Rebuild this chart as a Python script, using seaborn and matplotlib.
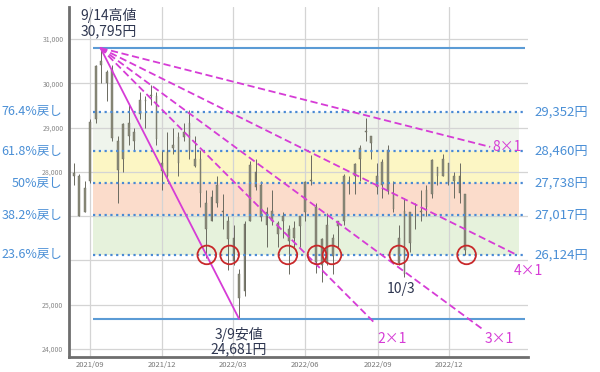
import numpy as np
import pandas as pd
import matplotlib
matplotlib.use("Agg")
import matplotlib.pyplot as plt
import matplotlib.dates as mdates
import seaborn as sns

## 日経平均 週足 (2021/08 - 2022/12)
week_start = pd.date_range("2021-08-02", periods=73, freq="7D")
opens = [27400, 27900, 27900, 27100, 27800, 29200, 30400, 30000, 30300, 28700,
         28300, 29100, 28700, 29300, 29600, 29700, 29700, 28200, 27900, 28600,
         28200, 28900, 29100, 28300, 28300, 27300, 26900, 27300, 27100, 26900,
         26500, 25700, 25300, 26900, 28000, 27700, 26800, 26900, 26600, 26900,
         26700, 26500, 27000, 27100, 27800, 27200, 25900, 26800, 26100, 26900,
         26900, 27800, 27900, 28300, 28900, 28800, 27900, 27700, 28500, 27500,
         26500, 25700, 26400, 26900, 27100, 27600, 27500, 28100, 27900, 28200,
         27800, 27900, 27500]
highs = [27900, 28200, 27950, 27800, 29200, 30400, 30795, 30300, 30400, 28800,
         29100, 29500, 29000, 29800, 29700, 29960, 29800, 28500, 28900, 29000,
         28900, 29100, 29390, 28800, 28500, 27600, 27600, 27900, 27500, 27000,
         26800, 25800, 26900, 28250, 28300, 27800, 27200, 27600, 26900, 27100,
         26800, 26900, 27000, 27800, 28390, 27300, 26500, 27060, 26600, 26900,
         27950, 27900, 28200, 28600, 29222, 28800, 28200, 28300, 28600, 27800,
         26800, 27400, 27100, 27300, 27600, 27700, 28300, 28100, 28400, 28200,
         28000, 28200, 27500]
lows = [27300, 27700, 27010, 27100, 27750, 29100, 30000, 29600, 28700, 27293,
        28000, 28600, 28500, 29200, 29000, 29500, 28600, 27590, 27800, 28400,
        27900, 28700, 28300, 28100, 27200, 26044, 26900, 27200, 26700, 25775,
        25900, 24681, 25200, 26900, 27600, 26900, 26300, 26800, 26300, 26500,
        25690, 26300, 26300, 26900, 27700, 25720, 25520, 25900, 25700, 26300,
        26800, 27500, 27500, 27800, 28700, 28300, 27500, 27400, 27500, 27100,
        25900, 25621, 26200, 26700, 26900, 27000, 27400, 27700, 27900, 27700,
        27400, 27300, 26124]
closes = [27820, 27977, 27013, 27641, 29128, 30382, 30500, 30248, 28771, 28048,
          29068, 28804, 28892, 29611, 29610, 29745, 28751, 28029, 28437, 28545,
          28782, 28791, 28479, 28124, 27522, 26717, 27440, 27697, 27122, 26476,
          25985, 25163, 26827, 28149, 27665, 26985, 27093, 27105, 26848, 27003,
          26428, 26739, 26782, 27762, 27825, 25963, 26491, 25935, 26517, 26788,
          27914, 27801, 28175, 28546, 28930, 28641, 27650, 28214, 27567, 27153,
          25937, 27116, 27090, 26891, 27105, 27199, 28263, 27899, 28283, 27777,
          27901, 27527, 26235]

## 高値・安値とフィボナッチ戻し
high_date, high_price = "2021-09-14", 30795
low_date, low_price = "2022-03-09", 24681
fib_names = ["76.4%戻し", "61.8%戻し", "50%戻し", "38.2%戻し", "23.6%戻し"]
fib_prices = [29352, 28460, 27738, 27017, 26124]
fib_labels = ["29,352円", "28,460円", "27,738円", "27,017円", "26,124円"]
band_colors = ["#eff4ec", "#fcf6c4", "#fbdccb", "#e6f2dc"]

## ギャンファン (終点は図から読み取り)
fan_names = ["1×1", "2×1", "3×1", "4×1", "8×1"]
fan_end_dates = ["2022-03-09", "2022-08-27", "2023-01-12", "2023-02-23", "2023-01-22"]
fan_end_prices = [24681, 24610, 24452, 26140, 28562]

## 23.6%ラインのタッチ
touch_dates = ["2022-01-27", "2022-02-25", "2022-05-10", "2022-06-16",
               "2022-07-05", "2022-09-28", "2022-12-23"]

sns.set_theme(style="white")
plt.rcParams["font.family"] = ["Noto Sans CJK JP", "DejaVu Sans"]

fig = plt.figure(figsize=(6, 3.72), dpi=100)
ax = fig.add_axes([69/600, 1-357/372, 459/600, 350/372])

line_start = pd.Timestamp("2021-09-05")
line_end = pd.Timestamp("2023-03-07")
band_end = pd.Timestamp("2023-02-28")

# 帯
for i in range(4):
    ax.fill_between([line_start, band_end], fib_prices[i+1], fib_prices[i],
                    color=band_colors[i], lw=0, zorder=0)

# ローソク足
mid = week_start + pd.Timedelta(days=2)
o = np.array(opens); c = np.array(closes)
ax.vlines(mid, lows, highs, color="#6a6a60", lw=0.7, zorder=2)
ax.bar(mid, np.abs(c - o), bottom=np.minimum(o, c), width=2.2,
       color="#8c8c7a", edgecolor="#6a6a60", linewidth=0.3, zorder=2)

# 高値・安値ライン
ax.hlines([high_price, low_price], line_start, line_end, color="#5b9bd5", lw=1.5, zorder=3)
# フィボナッチライン
ax.hlines(fib_prices, line_start, line_end, color="#4a8ad4", lw=1.6,
          linestyles=(0, (1, 1.6)), zorder=3)

# ギャンファン
fan = pd.DataFrame({
    "name": np.repeat(fan_names, 2),
    "date": pd.to_datetime([d for e in fan_end_dates for d in (high_date, e)]),
    "price": [p for e in fan_end_prices for p in (high_price, e)],
})
sns.lineplot(data=fan, x="date", y="price", hue="name", style="name",
             palette=["#d63cd6"] * 5,
             dashes={n: ("" if n == "1×1" else (4, 2)) for n in fan_names},
             lw=1.3, legend=False, ax=ax, zorder=4, sort=False, estimator=None, units="name")

# 丸印
touch = pd.DataFrame({"date": pd.to_datetime(touch_dates), "price": fib_prices[-1]})
sns.scatterplot(data=touch, x="date", y="price", s=180, facecolor="none",
                edgecolor="#c8282a", linewidth=1.3, ax=ax, zorder=5)

# 注記
ax.annotate("9/14高値\n30,795円", xy=(pd.Timestamp(high_date), high_price),
            xytext=(-20, 10), textcoords="offset pixels", ha="left", va="bottom",
            fontsize=10, color="#2e3650", linespacing=1.05)
ax.annotate("3/9安値\n24,681円", xy=(pd.Timestamp(low_date), low_price),
            xytext=(0, -8), textcoords="offset pixels", ha="center", va="top",
            fontsize=10, color="#2e3650", linespacing=1.05)
ax.annotate("10/3", xy=(pd.Timestamp("2022-10-03"), 25621),
            xytext=(-2, -5), textcoords="offset pixels", ha="center", va="top",
            fontsize=10, color="#2e3650")
fan_offsets = [None, (4, -17), (2, -10), (-2, -17), (2, 0)]
for i in range(1, 5):
    ax.annotate(fan_names[i], xy=(pd.Timestamp(fan_end_dates[i]), fan_end_prices[i]),
                xytext=fan_offsets[i], textcoords="offset pixels", ha="left",
                va="center", fontsize=10, color="#d63cd6")

tr = ax.get_yaxis_transform()
for name, p, lab in zip(fib_names, fib_prices, fib_labels):
    ax.text(-0.015, p, name, transform=tr, ha="right", va="center", fontsize=9,
            color="#4a8fd6", bbox=dict(facecolor="white", edgecolor="none", pad=0.5),
            zorder=10, clip_on=False)
    ax.text(1.015, p, lab, transform=tr, ha="left", va="center", fontsize=9.5,
            color="#4a8fd6", clip_on=False)

# 軸
ax.set_xlim(pd.Timestamp("2021-08-05"), pd.Timestamp("2023-03-11"))
ax.set_ylim(23820, 31720)
ax.set_yticks(range(24000, 32000, 1000))
# 26,000 と 27,000 は戻しラベルに隠れる
ax.yaxis.set_major_formatter(matplotlib.ticker.FuncFormatter(
    lambda v, _: "" if int(v) in (26000, 27000) else f"{int(v):,}"))
ax.set_xticks(pd.to_datetime(["2021-09-01", "2021-12-01", "2022-03-01",
                              "2022-06-01", "2022-09-01", "2022-12-01"]))
ax.xaxis.set_major_formatter(mdates.DateFormatter("%Y/%m"))
ax.tick_params(axis="y", labelsize=5, colors="#888888", length=0, pad=4)
ax.tick_params(axis="x", labelsize=5.5, colors="#777777", length=0, pad=3)
ax.grid(True, color="#d4d4d4", lw=0.9, zorder=1)
ax.set_axisbelow(True)
ax.set_xlabel("")
ax.set_ylabel("")
for s in ["top", "right"]:
    ax.spines[s].set_visible(False)
for s in ["left", "bottom"]:
    ax.spines[s].set_color("#6e6e6e")
    ax.spines[s].set_linewidth(2)

fig.savefig("out.png", dpi=100)
